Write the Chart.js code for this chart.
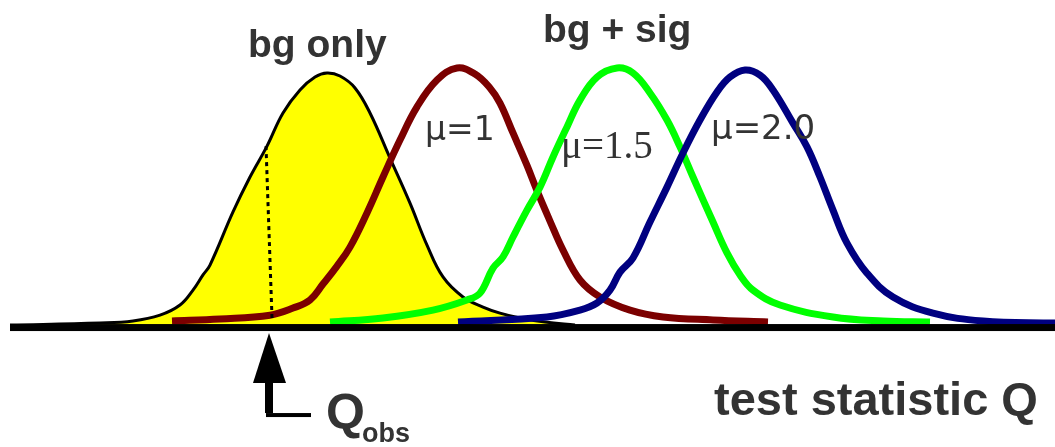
<!DOCTYPE html>
<html>
<head>
<meta charset="utf-8">
<script src="https://cdn.jsdelivr.net/npm/chart.js@4"></script>
<style>
  html, body { margin: 0; padding: 0; background: #fff; }
  #wrap { width: 1055px; height: 447px; position: relative; }
</style>
</head>
<body>
<div id="wrap"><canvas id="qChart"></canvas></div>
<script>
// background-only distribution of Q
var bgQ       = [0.10, 1.00, 1.33, 1.60, 1.80, 1.93, 2.03, 2.10, 2.33, 2.50, 2.67, 2.83, 3.00, 3.15, 3.27, 3.40, 3.55, 3.70, 3.90, 4.10, 4.27, 4.43, 4.63, 4.83, 5.00, 5.20, 5.45, 5.75];
var bgDensity = [0.004, 0.012, 0.020, 0.043, 0.083, 0.142, 0.202, 0.241, 0.451, 0.589, 0.711, 0.842, 0.933, 0.984, 1.000, 0.988, 0.941, 0.842, 0.664, 0.486, 0.320, 0.194, 0.115, 0.075, 0.051, 0.032, 0.016, 0.004];

// signal + background, mu = 1
var mu1Q       = [1.72, 2.20, 2.70, 2.93, 3.10, 3.23, 3.37, 3.50, 3.67, 3.83, 4.00, 4.17, 4.37, 4.57, 4.75, 4.90, 5.00, 5.13, 5.27, 5.37, 5.50, 5.63, 5.80, 6.00, 6.30, 6.63, 7.13, 7.68];
var mu1Density = [0.020, 0.028, 0.043, 0.071, 0.103, 0.166, 0.237, 0.312, 0.447, 0.589, 0.735, 0.866, 0.972, 1.020, 0.996, 0.941, 0.881, 0.763, 0.635, 0.535, 0.415, 0.300, 0.182, 0.115, 0.063, 0.036, 0.024, 0.016];

// mu = 1.5
var mu15Q       = [3.30, 3.83, 4.33, 4.67, 4.80, 4.93, 5.03, 5.13, 5.27, 5.40, 5.53, 5.67, 5.80, 5.97, 6.17, 6.33, 6.50, 6.67, 6.80, 6.93, 7.13, 7.27, 7.40, 7.53, 7.80, 8.33, 8.83, 9.30];
var mu15Density = [0.016, 0.032, 0.063, 0.103, 0.130, 0.229, 0.273, 0.352, 0.458, 0.549, 0.668, 0.787, 0.893, 0.984, 1.020, 1.000, 0.921, 0.814, 0.708, 0.589, 0.411, 0.289, 0.202, 0.142, 0.083, 0.036, 0.020, 0.016];

// mu = 2.0
var mu2Q       = [4.58, 5.47, 5.80, 5.97, 6.10, 6.20, 6.33, 6.50, 6.67, 6.83, 7.00, 7.17, 7.30, 7.45, 7.60, 7.73, 7.93, 8.07, 8.20, 8.33, 8.47, 8.67, 8.93, 9.33, 9.83, 10.55];
var mu2Density = [0.016, 0.036, 0.063, 0.091, 0.142, 0.213, 0.269, 0.411, 0.549, 0.684, 0.814, 0.925, 0.984, 1.012, 0.992, 0.933, 0.802, 0.708, 0.589, 0.458, 0.328, 0.209, 0.115, 0.051, 0.020, 0.012];

// observed value of Q (dotted marker)
var obsQ       = [2.66, 2.72];
var obsDensity = [0.711, 0.032];

function toPoints(xs, ys) {
  var pts = [];
  for (var i = 0; i < xs.length; i++) {
    pts.push({ x: xs[i], y: ys[i] });
  }
  return pts;
}

var labelColor = '#333333';

// axis line, arrow and the text labels
var decorations = {
  id: 'decorations',
  afterDatasetsDraw: function (chart) {
    var ctx = chart.ctx;
    var xs = chart.scales.x;
    var ys = chart.scales.y;
    var y0 = ys.getPixelForValue(0);

    ctx.save();
    // horizontal axis
    ctx.fillStyle = '#000';
    ctx.fillRect(xs.getPixelForValue(0.10), y0 - 2, 1055, 7);

    // arrow at Q_obs
    var ax = xs.getPixelForValue((obsQ[0] + obsQ[1]) / 2);
    ctx.beginPath();
    ctx.moveTo(ax, y0 + 7);
    ctx.lineTo(ax - 16, y0 + 57);
    ctx.lineTo(ax + 17, y0 + 57);
    ctx.closePath();
    ctx.fill();
    ctx.fillRect(ax - 4, y0 + 56, 8, 31);
    ctx.fillRect(ax - 3, y0 + 87, 45, 4);

    ctx.fillStyle = labelColor;
    ctx.textBaseline = 'alphabetic';
    ctx.textAlign = 'left';

    ctx.font = 'bold 39px "Liberation Sans", Arial, sans-serif';
    ctx.fillText('bg only', 248, 57);
    ctx.fillText('bg + sig', 543, 42);

    ctx.font = 'bold 47px "Liberation Sans", Arial, sans-serif';
    ctx.fillText('test statistic Q', 714, 415);

    ctx.font = 'bold 50px "Liberation Sans", Arial, sans-serif';
    ctx.fillText('Q', 326, 429);
    ctx.font = 'bold 27px "Liberation Sans", Arial, sans-serif';
    ctx.fillText('obs', 362, 442);

    ctx.font = '33px "DejaVu Sans", sans-serif';
    ctx.fillText('\u03bc=1', 425, 140);
    ctx.font = '34px "DejaVu Sans", sans-serif';
    ctx.fillText('\u03bc=2.0', 711, 139);
    ctx.font = '39px "Liberation Serif", "Times New Roman", serif';
    ctx.fillText('\u03bc=1.5', 561, 158);
    ctx.restore();
  }
};

var ctx = document.getElementById('qChart').getContext('2d');
var qChart = new Chart(ctx, {
  type: 'line',
  data: {
    datasets: [{
      label: 'bg only',
      data: toPoints(bgQ, bgDensity),
      borderColor: '#000000',
      backgroundColor: '#ffff00',
      borderWidth: 3,
      fill: 'origin',
      order: 5
    }, {
      label: 'mu=1',
      data: toPoints(mu1Q, mu1Density),
      borderColor: '#7b0000',
      borderWidth: 7,
      fill: false,
      order: 4
    }, {
      label: 'mu=1.5',
      data: toPoints(mu15Q, mu15Density),
      borderColor: '#00ff00',
      borderWidth: 7,
      fill: false,
      order: 3
    }, {
      label: 'mu=2.0',
      data: toPoints(mu2Q, mu2Density),
      borderColor: '#000080',
      borderWidth: 7,
      fill: false,
      order: 2
    }, {
      label: 'Q obs',
      data: toPoints(obsQ, obsDensity),
      borderColor: '#000000',
      borderWidth: 3,
      borderDash: [4, 4],
      tension: 0,
      fill: false,
      order: 1
    }]
  },
  options: {
    responsive: true,
    maintainAspectRatio: false,
    animation: false,
    layout: { padding: 0 },
    elements: {
      point: { radius: 0 },
      line: { tension: 0.4, borderCapStyle: 'butt', borderJoinStyle: 'round' }
    },
    plugins: {
      legend: { display: false },
      tooltip: { enabled: false }
    },
    scales: {
      x: { type: 'linear', min: 0, max: 10.55, display: false },
      y: { type: 'linear', min: -0.478, max: 1.2885, display: false }
    }
  },
  plugins: [decorations]
});
</script>
</body>
</html>
